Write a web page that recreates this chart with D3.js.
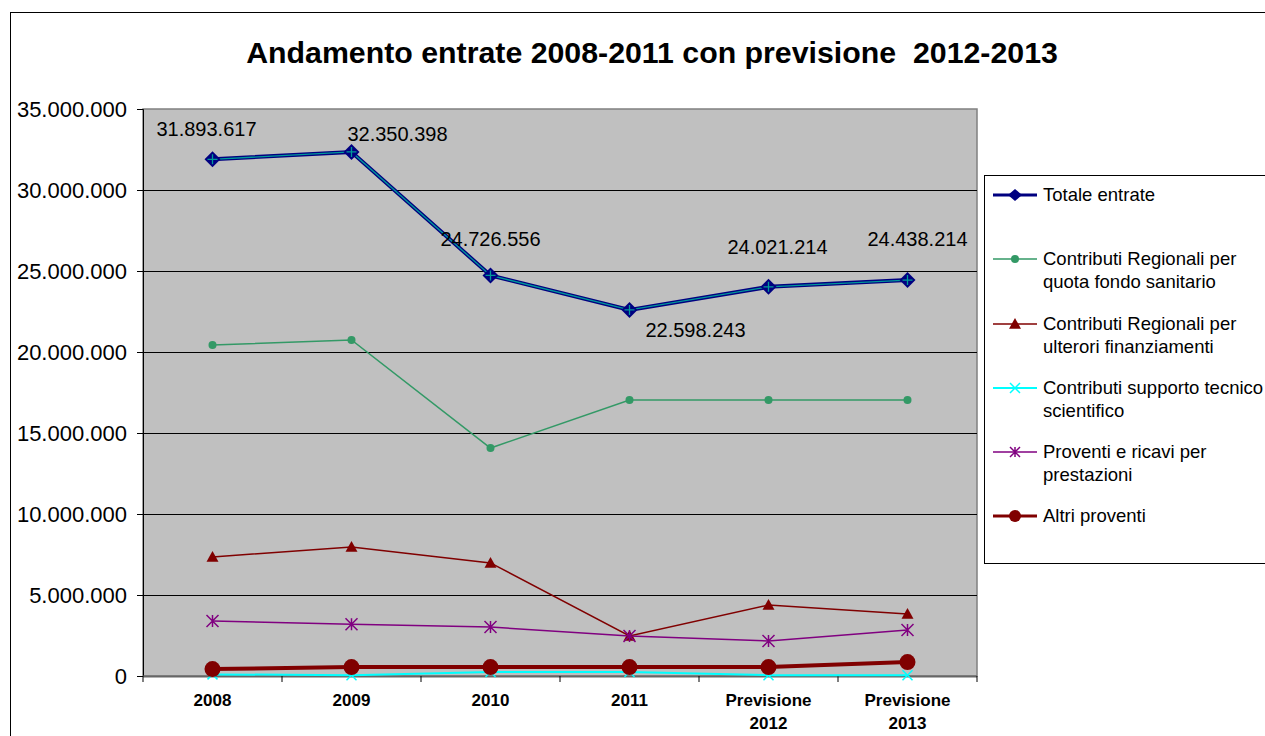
<!DOCTYPE html>
<html>
<head>
<meta charset="utf-8">
<script src="https://cdn.jsdelivr.net/npm/d3@7"></script>
<style>
  html, body { margin: 0; padding: 0; background: #fff; }
  svg { display: block; font-family: "Liberation Sans", Arial, sans-serif; }
  .pre { white-space: pre; }
</style>
</head>
<body>
<svg id="chart" width="1265" height="736"></svg>
<script>
// Categories (x axis) — two-line labels
const categories = ["2008", "2009", "2010", "2011", "Previsione 2012", "Previsione 2013"];
const categoryLines = [["2008"], ["2009"], ["2010"], ["2011"], ["Previsione", "2012"], ["Previsione", "2013"]];

// Series values (euro)
const totaleEntrate       = [31893617, 32350398, 24726556, 22598243, 24021214, 24438214];
const quotaFondoSanitario = [20430000, 20740000, 14070000, 17040000, 17040000, 17040000];
const ulterioriFinanz     = [7350000, 7960000, 6980000, 2470000, 4380000, 3830000];
const supportoTecnico     = [100000, 50000, 250000, 250000, 50000, 50000];
const proventiPrestazioni = [3400000, 3200000, 3020000, 2470000, 2160000, 2840000];
const altriProventi       = [430000, 550000, 550000, 550000, 550000, 860000];

// Y axis ticks
const yTicks = [0, 5000000, 10000000, 15000000, 20000000, 25000000, 30000000, 35000000];

// Legend labels
const legendLabels = [
  ["Totale entrate"],
  ["Contributi Regionali per", "quota fondo sanitario"],
  ["Contributi Regionali per", "ulterori finanziamenti"],
  ["Contributi supporto tecnico", "scientifico"],
  ["Proventi e ricavi per", "prestazioni"],
  ["Altri proventi"]
];

const svg = d3.select("#chart");
const fmt = v => d3.format(",")(v).replace(/,/g, ".");

// Outer chart frame
svg.append("rect").attr("x", 10.5).attr("y", 12.5).attr("width", 1300).attr("height", 800)
  .attr("fill", "#fff").attr("stroke", "#000").attr("stroke-width", 1);

// Title
svg.append("text").attr("class", "pre").attr("x", 652).attr("y", 63).attr("text-anchor", "middle")
  .attr("font-size", 30.3).attr("font-weight", "bold").attr("fill", "#000")
  .text("Andamento entrate 2008-2011 con previsione  2012-2013");

const plot = { left: 143, top: 109, right: 977, bottom: 676 };

const x = d3.scaleBand().domain(categories).range([plot.left, plot.right]);
const y = d3.scaleLinear().domain([0, 35000000]).range([plot.bottom, plot.top]);
const cx = c => x(c) + x.bandwidth() / 2;

// Plot area background
svg.append("rect").attr("x", plot.left).attr("y", plot.top)
  .attr("width", plot.right - plot.left).attr("height", plot.bottom - plot.top)
  .attr("fill", "#c0c0c0").attr("stroke", "#808080").attr("stroke-width", 1.5);

// Horizontal gridlines
svg.append("g").selectAll("line").data(yTicks.filter(t => t > 0 && t < 35000000)).join("line")
  .attr("x1", plot.left).attr("x2", plot.right)
  .attr("y1", d => Math.round(y(d)) + 0.5).attr("y2", d => Math.round(y(d)) + 0.5)
  .attr("stroke", "#000").attr("stroke-width", 1);

// Y axis
const yAxis = svg.append("g").attr("transform", `translate(${plot.left},0)`)
  .call(d3.axisLeft(y).tickValues(yTicks).tickFormat(fmt).tickSize(6).tickPadding(10));
yAxis.select(".domain").attr("stroke", "#000");
yAxis.selectAll("line").attr("stroke", "#000");
yAxis.selectAll("text").attr("font-size", 22).attr("fill", "#000")
  .attr("font-family", "'Liberation Sans', Arial, sans-serif");

// X axis: line and ticks at category boundaries
svg.append("line").attr("x1", plot.left).attr("x2", plot.right)
  .attr("y1", plot.bottom + 0.5).attr("y2", plot.bottom + 0.5)
  .attr("stroke", "#666").attr("stroke-width", 2);
svg.append("g").selectAll("line").data(categories).join("line")
  .attr("x1", d => x(d) + x.bandwidth()).attr("x2", d => x(d) + x.bandwidth())
  .attr("y1", plot.bottom).attr("y2", plot.bottom + 6).attr("stroke", "#000");
svg.append("g").selectAll("line").data([categories[0]]).join("line")
  .attr("x1", d => x(d)).attr("x2", d => x(d))
  .attr("y1", plot.bottom).attr("y2", plot.bottom + 6).attr("stroke", "#000");

const xl = svg.append("g").selectAll("text").data(categories).join("text")
  .attr("x", d => cx(d)).attr("y", 706).attr("text-anchor", "middle")
  .attr("font-size", 17).attr("font-weight", "bold").attr("fill", "#000");
xl.each(function(d, i) {
  d3.select(this).selectAll("tspan").data(categoryLines[i]).join("tspan")
    .attr("x", cx(d)).attr("dy", (t, j) => j === 0 ? 0 : 23).text(t => t);
});

// Series definitions (drawing order bottom → top)
const series = [
  { values: quotaFondoSanitario, color: "#339966", width: 1.5, marker: "circle", size: 4 },
  { values: ulterioriFinanz, color: "#800000", width: 1.5, marker: "triangle", size: 6 },
  { values: supportoTecnico, color: "#00ffff", width: 2, marker: "x", size: 5 },
  { values: proventiPrestazioni, color: "#800080", width: 1.5, marker: "star", size: 6 },
  { values: altriProventi, color: "#800000", width: 4, marker: "bigcircle", size: 8 },
];

const line = d3.line().x((d, i) => cx(categories[i])).y(d => y(d));

function drawMarker(g, type, color, size) {
  if (type === "circle" || type === "bigcircle") {
    g.append("circle").attr("r", size).attr("fill", color);
  } else if (type === "triangle") {
    g.append("path").attr("d", `M0,${-size}L${size},${size * 0.8}L${-size},${size * 0.8}Z`).attr("fill", color);
  } else if (type === "x") {
    g.append("path").attr("d", `M${-size},${-size}L${size},${size}M${size},${-size}L${-size},${size}`)
      .attr("stroke", color).attr("stroke-width", 1.5);
  } else if (type === "star") {
    g.append("path").attr("d", `M${-size},${-size}L${size},${size}M${size},${-size}L${-size},${size}M0,${-size}L0,${size}`)
      .attr("stroke", color).attr("stroke-width", 1.5);
  } else if (type === "diamond") {
    g.append("path").attr("d", `M0,${-size}L${size},0L0,${size}L${-size},0Z`).attr("fill", color);
    g.append("path").attr("d", `M0,${-size + 3}L0,${size - 3}M${-size + 3},0L${size - 3},0`)
      .attr("stroke", "#009999").attr("stroke-width", 1.3);
  }
}

series.forEach(s => {
  svg.append("path").datum(s.values).attr("d", line)
    .attr("fill", "none").attr("stroke", s.color).attr("stroke-width", s.width);
  s.values.forEach((v, i) => {
    const g = svg.append("g").attr("transform", `translate(${cx(categories[i])},${y(v)})`);
    drawMarker(g, s.marker, s.color, s.size);
  });
});

// Totale entrate: navy line with teal core
svg.append("path").datum(totaleEntrate).attr("d", line)
  .attr("fill", "none").attr("stroke", "#000080").attr("stroke-width", 4);
svg.append("path").datum(totaleEntrate).attr("d", line)
  .attr("fill", "none").attr("stroke", "#009999").attr("stroke-width", 1.3);
totaleEntrate.forEach((v, i) => {
  const g = svg.append("g").attr("transform", `translate(${cx(categories[i])},${y(v)})`);
  drawMarker(g, "diamond", "#000080", 8);
});

// Data labels for the total (offsets relative to each point)
const labelOffsets = [[-6, -23], [46, -11], [0, -29], [66, 27], [9, -33], [10, -34]];
svg.append("g").selectAll("text").data(totaleEntrate).join("text")
  .attr("x", (d, i) => cx(categories[i]) + labelOffsets[i][0])
  .attr("y", (d, i) => y(d) + labelOffsets[i][1])
  .attr("text-anchor", "middle").attr("font-size", 20).attr("fill", "#000")
  .text(d => fmt(d));

// Legend
const legend = { x: 984, y: 175 };
svg.append("rect").attr("x", legend.x + 0.5).attr("y", legend.y + 0.5)
  .attr("width", 400).attr("height", 388).attr("fill", "#fff").attr("stroke", "#000");

const legendItems = [
  { color: "#000080", width: 3, marker: "diamondL", size: 7 },
  { color: "#339966", width: 1.5, marker: "circle", size: 4 },
  { color: "#800000", width: 1.5, marker: "triangle", size: 6 },
  { color: "#00ffff", width: 2, marker: "x", size: 5 },
  { color: "#800080", width: 1.5, marker: "star", size: 5 },
  { color: "#800000", width: 3, marker: "bigcircle", size: 6 },
];
const legendY = [195, 259, 324, 388, 452, 516];

legendItems.forEach((it, i) => {
  const ly = legendY[i];
  svg.append("line").attr("x1", 993).attr("x2", 1037).attr("y1", ly).attr("y2", ly)
    .attr("stroke", it.color).attr("stroke-width", it.width);
  const g = svg.append("g").attr("transform", `translate(1015,${ly})`);
  if (it.marker === "diamondL") {
    g.append("path").attr("d", `M0,-6L7,0L0,6L-7,0Z`).attr("fill", it.color);
  } else {
    drawMarker(g, it.marker, it.color, it.size);
  }
  const t = svg.append("text").attr("x", 1043).attr("y", ly + 6)
    .attr("font-size", 18.5).attr("fill", "#000");
  t.selectAll("tspan").data(legendLabels[i]).join("tspan")
    .attr("x", 1043).attr("dy", (d, j) => j === 0 ? 0 : 23).text(d => d);
});
</script>
</body>
</html>
